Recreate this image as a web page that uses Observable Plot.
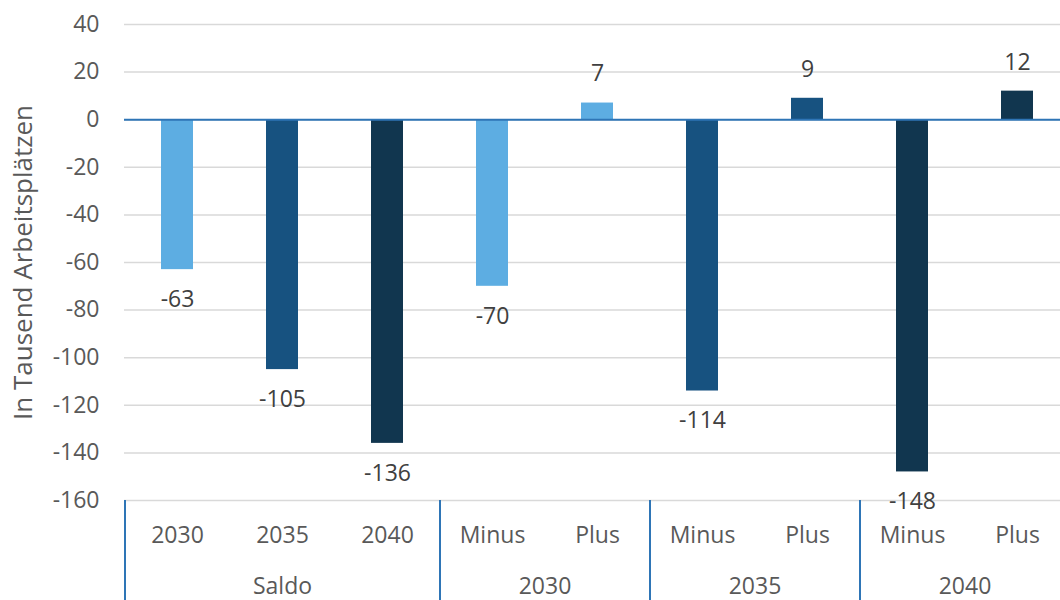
<!DOCTYPE html>
<html>
<head>
<meta charset="utf-8">
<script src="https://cdn.jsdelivr.net/npm/d3@7"></script>
<script src="https://cdn.jsdelivr.net/npm/@observablehq/plot@0.6"></script>
<style>
  html, body { margin: 0; padding: 0; background: #fff; }
  #chart svg { display: block; }
</style>
</head>
<body>
<div id="chart"></div>
<script>
// ---- data ----
const ids = ["S2030", "S2035", "S2040", "M2030", "P2030", "M2035", "P2035", "M2040", "P2040"];
const tickLabels = ["2030", "2035", "2040", "Minus", "Plus", "Minus", "Plus", "Minus", "Plus"];
const values = [-63, -105, -136, -70, 7, -114, 9, -148, 12];
const barYear = ["2030", "2035", "2040", "2030", "2030", "2035", "2035", "2040", "2040"];
const groupNames = ["Saldo", "2030", "2035", "2040"];
const groupSizes = [3, 2, 2, 2];
const yTicks = [-160, -140, -120, -100, -80, -60, -40, -20, 0, 20, 40];

const colors = {"2030": "#5DADE2", "2035": "#175280", "2040": "#11364F"};

const data = ids.map((id, i) => ({id, label: tickLabels[i], value: values[i], year: barYear[i]}));

// ---- layout ----
const W = 1060, H = 600;
const mL = 124, mT = 24, mB = 100, mR = 0;
const xRange = [mL, mL + 9 * 105];
const font = "'Open Sans', sans-serif";
const fs = 23;

const xScaleOpts = {type: "band", domain: ids, range: xRange, paddingInner: 0.7, paddingOuter: 0.35};
const xs = Plot.scale({x: xScaleOpts});
const step = xs.step;

// group starting indices
const groupStart = [];
groupSizes.reduce((acc, n) => { groupStart.push(acc); return acc + n; }, 0);

const plotH = H - mT - mB;

const groupLabelMarks = groupNames.map((g, k) =>
  Plot.text([g], {
    x: () => ids[groupStart[k]],
    text: d => d,
    frameAnchor: "bottom",
    dy: 86,
    dx: (groupSizes[k] - 1) * step / 2,
    textAnchor: "middle",
    fontSize: fs,
    fill: "#595959",
    fontFamily: font,
    lineAnchor: "middle"
  })
);

const separatorMarks = groupNames.map((g, k) =>
  Plot.ruleX([g], {
    x: () => ids[groupStart[k]],
    dx: -step / 2,
    insetTop: plotH,
    insetBottom: -mB,
    stroke: "#2E75B6",
    strokeWidth: 2
  })
);

const chart = Plot.plot({
  width: W,
  height: H,
  marginLeft: mL,
  marginRight: mR,
  marginTop: mT,
  marginBottom: mB,
  style: {fontFamily: font, background: "#fff"},
  x: {...xScaleOpts, axis: null},
  y: {domain: [-160, 40], axis: null},
  color: {domain: Object.keys(colors), range: Object.values(colors)},
  marks: [
    Plot.ruleY(yTicks, {stroke: "#d9d9d9", strokeWidth: 1.5}),
    Plot.barY(data, {x: "id", y: "value", fill: "year"}),
    Plot.ruleY([0], {stroke: "#2E75B6", strokeWidth: 2}),
    // y tick labels
    Plot.text(yTicks, {
      y: d => d, text: d => String(d), frameAnchor: "left", dx: -25,
      textAnchor: "end", fontSize: fs, fill: "#595959", fontFamily: font, lineAnchor: "middle"
    }),
    // category tick labels
    Plot.text(data, {
      x: "id", text: "label", frameAnchor: "bottom", dy: 35, textAnchor: "middle",
      fontSize: fs, fill: "#595959", fontFamily: font, lineAnchor: "middle"
    }),
    // value labels
    Plot.text(data.filter(d => d.value < 0), {
      x: "id", y: "value", text: d => String(d.value), dy: 30,
      fontSize: fs, fill: "#404040", fontFamily: font, lineAnchor: "middle"
    }),
    Plot.text(data.filter(d => d.value >= 0), {
      x: "id", y: "value", text: d => String(d.value), dy: -29,
      fontSize: fs, fill: "#404040", fontFamily: font, lineAnchor: "middle"
    }),
    ...groupLabelMarks,
    ...separatorMarks,
    // y axis title
    Plot.text(["In Tausend Arbeitsplätzen"], {
      text: d => d, frameAnchor: "left", dx: -101, rotate: -90, textAnchor: "middle",
      fontSize: 26, fill: "#595959", fontFamily: font, lineAnchor: "middle"
    })
  ]
});

document.getElementById("chart").appendChild(chart);
</script>
</body>
</html>
